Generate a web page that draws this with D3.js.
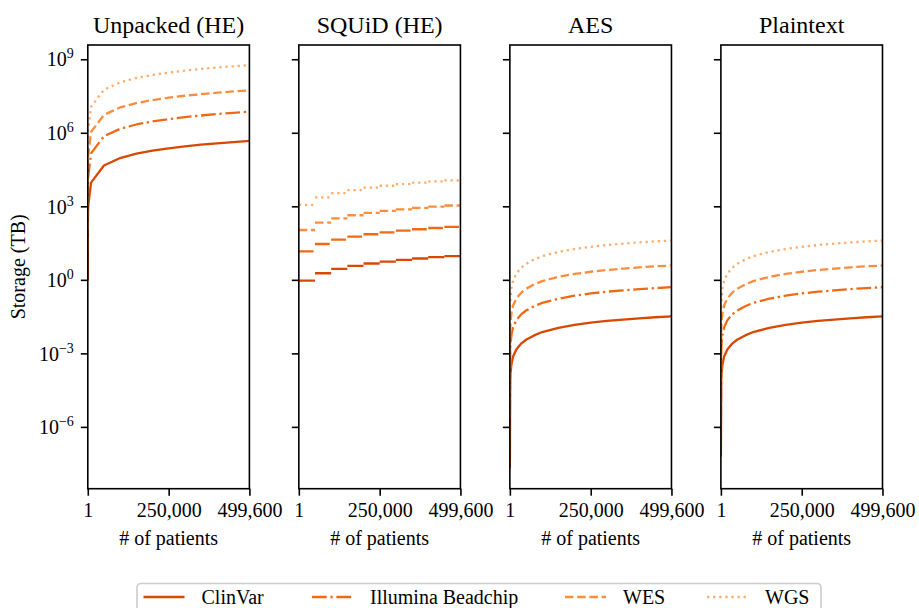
<!DOCTYPE html>
<html><head><meta charset="utf-8">
<script src="https://cdn.jsdelivr.net/npm/d3@7"></script>
<style>
body{margin:0;background:#fff;}
svg{display:block;font-family:"Liberation Serif","Times New Roman",serif;}
</style></head><body>
<svg id="chart" width="919" height="608"></svg>
<script>
// ---------------- data ----------------
const seriesNames = ["ClinVar", "Illumina Beadchip", "WES", "WGS"];
const panelTitles = ["Unpacked (HE)", "SQUiD (HE)", "AES", "Plaintext"];
const xTickValues = [1, 250000, 499600];
const xTickLabels = ["1", "250,000", "499,600"];
const yTickExponents = [-6, -3, 0, 3, 6, 9];
const xLabel = "# of patients";
const yLabel = "Storage (TB)";

// Unpacked (HE)
const unpackedN = [1, 10, 100, 1000, 10000, 50000, 100000, 150000, 200000, 250000, 300000, 350000, 400000, 450000, 499600];
const unpackedClinVar = [0.93, 9.3, 93, 930, 9300, 46500, 93000, 140000, 186000, 233000, 279000, 326000, 372000, 419000, 465000];
const unpackedIllumina = [14.5, 145, 1450, 14500, 145000, 725000, 1450000, 2180000, 2900000, 3630000, 4350000, 5080000, 5800000, 6530000, 7240000];
const unpackedWES = [108, 1080, 10800, 108000, 1080000, 5400000, 10800000, 16200000, 21600000, 27000000, 32400000, 37800000, 43200000, 48600000, 53900000];
const unpackedWGS = [1150, 11500, 115000, 1150000, 11500000, 57500000, 115000000, 172000000, 230000000, 287000000, 345000000, 402000000, 460000000, 517000000, 574000000];

// SQUiD (HE): one value per block of patients
const squidEdges = [1, 50000, 100000, 150000, 200000, 250000, 300000, 350000, 400000, 450000, 499600];
const squidClinVar = [0.93, 1.86, 2.79, 3.72, 4.65, 5.58, 6.51, 7.44, 8.37, 9.3];
const squidIllumina = [14.5, 29, 43.5, 58, 72.5, 87, 101.5, 116, 130.5, 145];
const squidWES = [108, 216, 324, 432, 540, 648, 756, 864, 972, 1080];
const squidWGS = [1150, 2300, 3450, 4600, 5750, 6900, 8050, 9200, 10350, 11500];

// AES
const aesN = [1, 1000, 2000, 5000, 10000, 20000, 35000, 50000, 75000, 100000, 150000, 200000, 250000, 300000, 350000, 400000, 450000, 499600];
const aesClinVar = [2.0e-8, 7.5e-5, 1.5e-4, 3.7e-4, 7.4e-4, 1.45e-3, 2.5e-3, 3.6e-3, 5.4e-3, 7.4e-3, 1.1e-2, 1.45e-2, 1.78e-2, 2.1e-2, 2.4e-2, 2.7e-2, 2.97e-2, 3.2e-2];
const aesIllumina = [3.1e-7, 1.17e-3, 2.3e-3, 5.8e-3, 1.15e-2, 2.26e-2, 3.9e-2, 5.6e-2, 8.4e-2, 0.115, 0.17, 0.226, 0.278, 0.33, 0.37, 0.42, 0.46, 0.5];
const aesWES = [2.4e-6, 9.0e-3, 1.8e-2, 4.4e-2, 8.9e-2, 0.174, 0.30, 0.43, 0.65, 0.89, 1.32, 1.74, 2.14, 2.52, 2.88, 3.24, 3.56, 3.84];
const aesWGS = [2.5e-5, 9.4e-2, 0.19, 0.46, 0.93, 1.81, 3.1, 4.5, 6.75, 9.25, 13.8, 18.1, 22.3, 26.3, 30, 33.8, 37.1, 40];

// Plaintext
const plainN = [1, 1000, 2000, 5000, 10000, 20000, 35000, 50000, 75000, 100000, 150000, 200000, 250000, 300000, 350000, 400000, 450000, 499600];
const plainClinVar = [6.2e-8, 7.5e-5, 1.5e-4, 3.7e-4, 7.4e-4, 1.45e-3, 2.5e-3, 3.6e-3, 5.4e-3, 7.4e-3, 1.1e-2, 1.45e-2, 1.78e-2, 2.1e-2, 2.4e-2, 2.7e-2, 2.97e-2, 3.2e-2];
const plainIllumina = [9.7e-7, 1.17e-3, 2.3e-3, 5.8e-3, 1.15e-2, 2.26e-2, 3.9e-2, 5.6e-2, 8.4e-2, 0.115, 0.17, 0.226, 0.278, 0.33, 0.37, 0.42, 0.46, 0.5];
const plainWES = [7.4e-6, 9.0e-3, 1.8e-2, 4.4e-2, 8.9e-2, 0.174, 0.30, 0.43, 0.65, 0.89, 1.32, 1.74, 2.14, 2.52, 2.88, 3.24, 3.56, 3.84];
const plainWGS = [7.7e-5, 9.4e-2, 0.19, 0.46, 0.93, 1.81, 3.1, 4.5, 6.75, 9.25, 13.8, 18.1, 22.3, 26.3, 30, 33.8, 37.1, 40];

// ---------------- styles / layout ----------------
const colors = ["#d94801", "#f16913", "#fd8d3c", "#fdae6b"];
const dashes = [null, "14.7,3.7,2.3,3.7", "8.5,3.7", "2.3,3.8"];
const LW = 2.3;
const plotTop = 45, plotBottom = 488.7, panelW = 161.6, panelStep = 211.03, firstLeft = 87.8;
const tickLen = 7;

const panels = [
  {type: "line", n: unpackedN, series: [unpackedClinVar, unpackedIllumina, unpackedWES, unpackedWGS]},
  {type: "step", edges: squidEdges, series: [squidClinVar, squidIllumina, squidWES, squidWGS]},
  {type: "line", n: aesN, series: [aesClinVar, aesIllumina, aesWES, aesWGS]},
  {type: "line", n: plainN, series: [plainClinVar, plainIllumina, plainWES, plainWGS]}
];

const svg = d3.select("#chart");
svg.append("rect").attr("width", 919).attr("height", 608).attr("fill", "#fff");

const allVals = panels.flatMap(p => p.series.flat());
const lmin = Math.log10(d3.min(allVals)), lmax = Math.log10(d3.max(allVals));
const padL = (lmax - lmin) * 0.05;
const y = d3.scaleLog().domain([Math.pow(10, lmin - padL), Math.pow(10, lmax + padL)]).range([plotBottom, plotTop]);

panels.forEach((p, i) => {
  const left = firstLeft + i * panelStep;
  const x = d3.scaleLinear().domain([xTickValues[0], xTickValues[2]]).range([left, left + panelW]);
  const g = svg.append("g");
  const clipId = "clip" + i;
  svg.append("clipPath").attr("id", clipId).append("rect")
    .attr("x", left).attr("y", plotTop).attr("width", panelW).attr("height", plotBottom - plotTop);
  const lines = g.append("g").attr("clip-path", `url(#${clipId})`);
  const lineGen = d3.line().x(d => x(d[0])).y(d => y(d[1]));

  p.series.forEach((vals, s) => {
    if (p.type === "line") {
      lines.append("path")
        .datum(p.n.map((n, k) => [n, vals[k]]))
        .attr("d", lineGen)
        .attr("fill", "none").attr("stroke", colors[s]).attr("stroke-width", LW)
        .attr("stroke-linejoin", "round")
        .attr("stroke-dasharray", dashes[s]);
    } else {
      vals.forEach((v, k) => {
        lines.append("path")
          .datum([[p.edges[k], v], [p.edges[k + 1], v]])
          .attr("d", lineGen)
          .attr("fill", "none").attr("stroke", colors[s]).attr("stroke-width", LW)
          .attr("stroke-dasharray", dashes[s]);
      });
    }
  });

  // x axis
  const xAxis = d3.axisBottom(x).tickValues(xTickValues)
    .tickFormat((d, k) => xTickLabels[k]).tickSize(tickLen).tickSizeOuter(0);
  const gx = g.append("g").attr("transform", `translate(0,${plotBottom})`).call(xAxis);
  gx.select(".domain").remove();
  gx.selectAll(".tick line").attr("stroke", "#000").attr("stroke-width", 1.6);
  gx.selectAll(".tick text").attr("y", 28).attr("dy", null)
    .attr("font-size", 20).attr("fill", "#000")
    .attr("font-family", "'Liberation Serif','Times New Roman',serif");

  // y axis
  const yAxis = d3.axisLeft(y).tickValues(yTickExponents.map(e => Math.pow(10, e)))
    .tickFormat("").tickSize(tickLen).tickSizeOuter(0);
  const gy = g.append("g").attr("transform", `translate(${left},0)`).call(yAxis);
  gy.select(".domain").remove();
  gy.selectAll(".tick line").attr("stroke", "#000").attr("stroke-width", 1.6);
  if (i === 0) {
    gy.selectAll(".tick text").each(function(d, k) {
      const t = d3.select(this);
      t.text(null).attr("x", -14).attr("y", 6.7).attr("dy", null)
        .attr("fill", "#000").attr("text-anchor", "end")
        .attr("font-family", "'Liberation Serif','Times New Roman',serif");
      t.append("tspan").attr("font-size", 20).text("10");
      const e = yTickExponents[k];
      t.append("tspan").attr("font-size", 14).attr("dy", -8)
        .text(e < 0 ? "\u2212" + Math.abs(e) : String(e));
    });
  } else {
    gy.selectAll(".tick text").remove();
  }

  // frame
  g.append("rect").attr("x", left).attr("y", plotTop)
    .attr("width", panelW).attr("height", plotBottom - plotTop)
    .attr("fill", "none").attr("stroke", "#000").attr("stroke-width", 1.6);

  // title
  g.append("text").attr("x", left + panelW / 2).attr("y", 33)
    .attr("text-anchor", "middle").attr("font-size", 24).attr("fill", "#000")
    .text(panelTitles[i]);

  // x label
  g.append("text").attr("x", left + panelW / 2).attr("y", 545)
    .attr("text-anchor", "middle").attr("font-size", 20).attr("fill", "#000")
    .text(xLabel);
});

// y label
svg.append("text")
  .attr("transform", `translate(24.5,${(plotTop + plotBottom) / 2}) rotate(-90)`)
  .attr("text-anchor", "middle").attr("font-size", 20).attr("fill", "#000")
  .text(yLabel);

// legend
const legend = svg.append("g");
legend.append("rect").attr("x", 137).attr("y", 583.5).attr("width", 684).attr("height", 40)
  .attr("rx", 4).attr("fill", "#fff").attr("stroke", "#cccccc").attr("stroke-width", 1.6);
const handleX = [143.5, 312, 565, 707];
seriesNames.forEach((name, s) => {
  legend.append("line").attr("x1", handleX[s]).attr("x2", handleX[s] + 41)
    .attr("y1", 597).attr("y2", 597)
    .attr("stroke", colors[s]).attr("stroke-width", LW)
    .attr("stroke-dasharray", dashes[s]);
  legend.append("text").attr("x", handleX[s] + 58).attr("y", 604)
    .attr("font-size", 20).attr("fill", "#000").text(name);
});
</script></body></html>
